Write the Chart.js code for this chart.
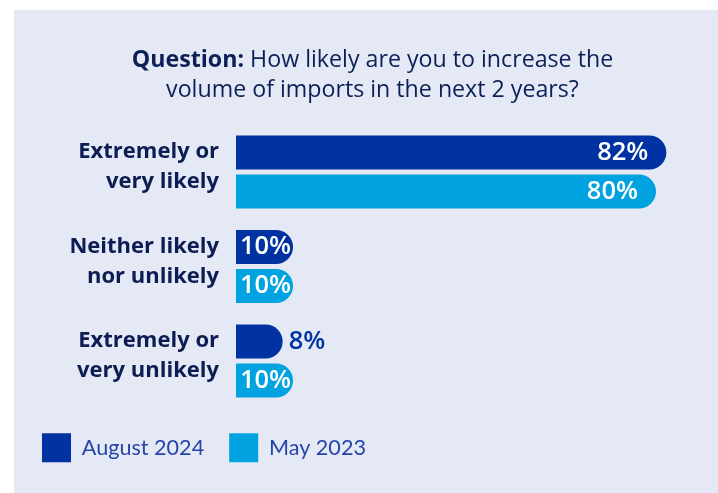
<!DOCTYPE html>
<html>
<head>
<meta charset="utf-8">
<script src="https://cdn.jsdelivr.net/npm/chart.js@4.4.0/dist/chart.umd.min.js"></script>
<style>
  html, body { margin: 0; padding: 0; background: #fff; overflow: hidden; width: 718px; height: 493px; }
  #panel { position: absolute; left: 14px; top: 10px; width: 704px; height: 483px; background: #e5e9f5; }
  #chartBox { position: absolute; left: 0; top: 0; width: 704px; height: 483px; }
  #title {
    position: absolute; left: 0; top: 33px; width: 704px; padding-left: 13px; box-sizing: border-box;
    text-align: center; font-family: "Open Sans", sans-serif; font-size: 23.2px; line-height: 30px; color: #0c1f56;
  }
  #title b { font-weight: 700; }
</style>
</head>
<body>
<div id="panel">
  <div id="chartBox"><canvas id="chart"></canvas></div>
  <div id="title"><b>Question:</b> How likely are you to increase the<br>volume of imports in the next 2 years?</div>
</div>
<script>
const categories = [
  ['Extremely or', 'very likely'],
  ['Neither likely', 'nor unlikely'],
  ['Extremely or', 'very unlikely']
];
const seriesNames = ['August 2024', 'May 2023'];
const august2024 = [82, 10, 8];
const may2023 = [80, 10, 10];

const DARK = '#0033a1';
const LIGHT = '#00a3e0';
const INSIDE_MIN = 10; // smaller values get their label outside the bar

// value labels at the end of each bar
const barLabels = {
  id: 'barLabels',
  afterDatasetsDraw(chart) {
    const ctx = chart.ctx;
    ctx.save();
    ctx.font = '600 25.5px "Open Sans"';
    ctx.textBaseline = 'middle';
    chart.data.datasets.forEach((ds, i) => {
      chart.getDatasetMeta(i).data.forEach((bar, j) => {
        const v = ds.data[j];
        const text = v + '%';
        const w = ctx.measureText(text).width;
        const len = bar.x - bar.base;
        if (v < INSIDE_MIN) {
          ctx.fillStyle = ds.backgroundColor;
          ctx.textAlign = 'left';
          ctx.fillText(text, bar.x + 6, bar.y);
        } else if (len - w >= 36) {
          ctx.fillStyle = '#fff';
          ctx.textAlign = 'right';
          ctx.fillText(text, bar.x - 18, bar.y);
        } else {
          ctx.fillStyle = '#fff';
          ctx.textAlign = 'center';
          ctx.fillText(text, (bar.x + bar.base) / 2 + 1, bar.y);
        }
      });
    });
    ctx.restore();
  }
};

const barStyle = {
  borderWidth: 0,
  borderRadius: 17,
  borderSkipped: 'start',
  base: -1,
  categoryPercentage: 0.825,
  barPercentage: 0.872
};

new Chart(document.getElementById('chart'), {
  type: 'bar',
  data: {
    labels: categories,
    datasets: [
      { label: seriesNames[0], data: august2024, backgroundColor: DARK, ...barStyle },
      { label: seriesNames[1], data: may2023, backgroundColor: LIGHT, ...barStyle }
    ]
  },
  options: {
    indexAxis: 'y',
    responsive: true,
    maintainAspectRatio: false,
    animation: false,
    layout: { padding: { left: 3, right: 20.5, top: 114.75, bottom: 20.75 } },
    scales: {
      x: { display: false, min: -1, max: 88 },
      y: {
        grid: { display: false, drawTicks: false },
        border: { display: false },
        ticks: {
          padding: 17,
          labelOffset: -5,
          color: '#0b1d52',
          font: { family: '"Open Sans"', size: 22, weight: '700', lineHeight: 1.36 }
        },
        afterFit(scale) { scale.width = 219; }
      }
    },
    plugins: {
      tooltip: { enabled: false },
      legend: {
        position: 'bottom',
        align: 'start',
        labels: {
          boxWidth: 29,
          boxHeight: 29,
          padding: 25,
          color: '#2346a8',
          font: { family: 'Lato', size: 21.6 }
        }
      }
    }
  },
  plugins: [barLabels]
});
</script>
</body>
</html>
